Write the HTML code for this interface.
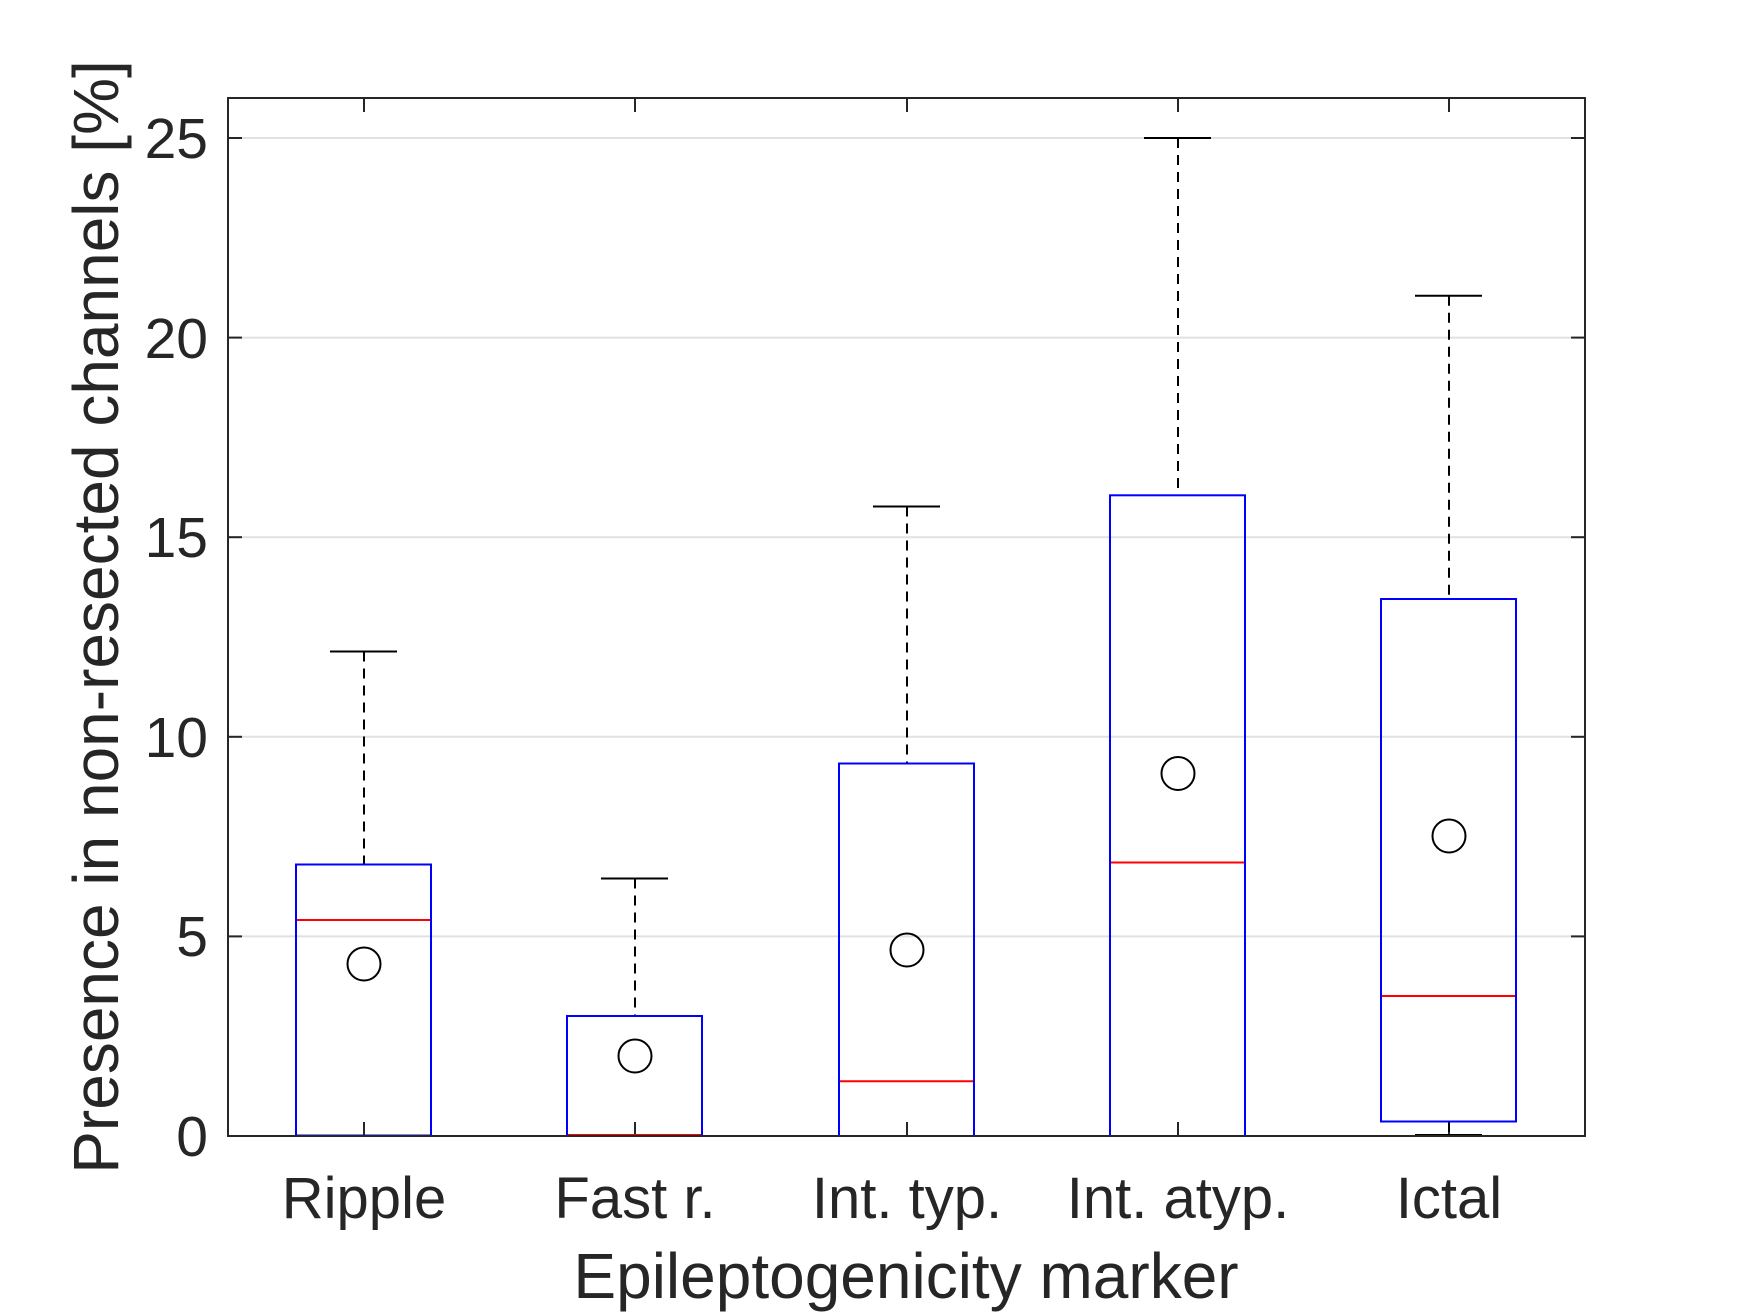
<!DOCTYPE html>
<html><head><meta charset="utf-8"><style>html,body{margin:0;padding:0;background:#fff}svg{display:block}</style></head>
<body>
<svg width="1750" height="1313" viewBox="0 0 1750 1313" xmlns="http://www.w3.org/2000/svg" font-family="Liberation Sans, sans-serif" fill="#262626">
<rect width="1750" height="1313" fill="#fff"/>
<g stroke="#e1e1e1" stroke-width="2">
<line x1="228" x2="1585" y1="936.4" y2="936.4"/>
<line x1="228" x2="1585" y1="736.8" y2="736.8"/>
<line x1="228" x2="1585" y1="537.2" y2="537.2"/>
<line x1="228" x2="1585" y1="337.6" y2="337.6"/>
<line x1="228" x2="1585" y1="138" y2="138"/>
</g>
<g stroke="#262626" stroke-width="2">
<line x1="228" x2="242" y1="936.4" y2="936.4"/><line x1="1571" x2="1585" y1="936.4" y2="936.4"/>
<line x1="228" x2="242" y1="736.8" y2="736.8"/><line x1="1571" x2="1585" y1="736.8" y2="736.8"/>
<line x1="228" x2="242" y1="537.2" y2="537.2"/><line x1="1571" x2="1585" y1="537.2" y2="537.2"/>
<line x1="228" x2="242" y1="337.6" y2="337.6"/><line x1="1571" x2="1585" y1="337.6" y2="337.6"/>
<line x1="228" x2="242" y1="138" y2="138"/><line x1="1571" x2="1585" y1="138" y2="138"/>
<line x1="364" x2="364" y1="1136" y2="1122"/><line x1="364" x2="364" y1="98" y2="112"/>
<line x1="635" x2="635" y1="1136" y2="1122"/><line x1="635" x2="635" y1="98" y2="112"/>
<line x1="907" x2="907" y1="1136" y2="1122"/><line x1="907" x2="907" y1="98" y2="112"/>
<line x1="1178" x2="1178" y1="1136" y2="1122"/><line x1="1178" x2="1178" y1="98" y2="112"/>
<line x1="1449" x2="1449" y1="1136" y2="1122"/><line x1="1449" x2="1449" y1="98" y2="112"/>
</g>
<g stroke="#000" stroke-width="2" stroke-dasharray="10,7" fill="none">
<line x1="364" x2="364" y1="651.5" y2="864.5"/>
<line x1="635" x2="635" y1="878.5" y2="1016"/>
<line x1="907" x2="907" y1="506.5" y2="763.5"/>
<line x1="1178" x2="1178" y1="138" y2="495.3"/>
<line x1="1449" x2="1449" y1="295.7" y2="599"/>
<line x1="1449" x2="1449" y1="1122" y2="1136"/>
</g>
<g stroke="#000" stroke-width="2">
<line x1="330" x2="397" y1="651.5" y2="651.5"/>
<line x1="601" x2="668" y1="878.5" y2="878.5"/>
<line x1="873" x2="940" y1="506.5" y2="506.5"/>
<line x1="1144" x2="1211" y1="138" y2="138"/>
<line x1="1415" x2="1482" y1="295.7" y2="295.7"/>
<line x1="1415" x2="1482" y1="1135" y2="1135"/>
</g>
<g stroke="#0000ff" stroke-width="2" fill="none">
<rect x="296" y="864.5" width="135" height="271"/>
<rect x="567" y="1016" width="135" height="120"/>
<rect x="839" y="763.5" width="135" height="372.5"/>
<rect x="1110" y="495.3" width="135" height="640.7"/>
<rect x="1381" y="599" width="135" height="522.5"/>
</g>
<g stroke="#ff0000" stroke-width="2">
<line x1="297" x2="430" y1="920" y2="920"/>
<line x1="568" x2="701" y1="1135" y2="1135"/>
<line x1="840" x2="973" y1="1081.3" y2="1081.3"/>
<line x1="1111" x2="1244" y1="862.5" y2="862.5"/>
<line x1="1382" x2="1515" y1="996" y2="996"/>
</g>
<g stroke="#000" stroke-width="2" fill="none">
<circle cx="364" cy="964" r="16.5"/>
<circle cx="635" cy="1056" r="16.5"/>
<circle cx="907" cy="950" r="16.5"/>
<circle cx="1178" cy="773.5" r="16.5"/>
<circle cx="1449" cy="836" r="16.5"/>
</g>
<rect x="228" y="98" width="1357" height="1038" fill="none" stroke="#262626" stroke-width="2"/>
<g font-size="57" text-anchor="end">
<text x="208" y="1156">0</text>
<text x="208" y="956">5</text>
<text x="208" y="757">10</text>
<text x="208" y="557">15</text>
<text x="208" y="358">20</text>
<text x="208" y="158">25</text>
</g>
<g font-size="58" text-anchor="middle">
<text x="364" y="1218">Ripple</text>
<text x="635" y="1218">Fast r.</text>
<text x="907" y="1218">Int. typ.</text>
<text x="1178" y="1218">Int. atyp.</text>
<text x="1449" y="1218">Ictal</text>
<text x="906" y="1298" font-size="64">Epileptogenicity marker</text>
<text transform="translate(118,617) rotate(-90)" font-size="64">Presence in non-resected channels [%]</text>
</g>
</svg>
</body></html>
